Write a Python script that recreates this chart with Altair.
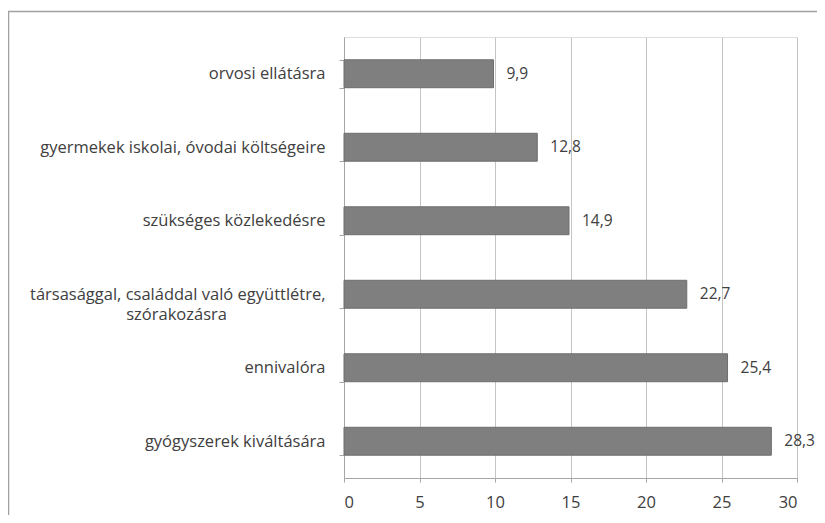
import altair as alt
import pandas as pd

categories = [
    "orvosi ellátásra",
    "gyermekek iskolai, óvodai költségeire",
    "szükséges közlekedésre",
    "társasággal, családdal való együttlétre,|szórakozásra",
    "ennivalóra",
    "gyógyszerek kiváltására",
]
values = [9.9, 12.8, 14.9, 22.7, 25.4, 28.3]
value_labels = ["9,9", "12,8", "14,9", "22,7", "25,4", "28,3"]
x_ticks = [0, 5, 10, 15, 20, 25, 30]

df = pd.DataFrame({"cat": categories, "val": values, "lab": value_labels})

FONT = "Open Sans"
TXT = "#404040"
FS = 16.5

# second line of the wrapped label is visually centred under the first line
pad = "\u00a0" * 23 + "\u2060"
label_expr = (
    "indexof(datum.label, '|') >= 0 ? "
    "[split(datum.label, '|')[0], split(datum.label, '|')[1] + '" + pad + "'] : datum.label"
)

y_enc = alt.Y(
    "cat:N",
    sort=categories,
    scale=alt.Scale(paddingInner=0.62, paddingOuter=0.31),
    axis=alt.Axis(
        title=None,
        labelExpr=label_expr,
        labelFont=FONT,
        labelFontSize=FS,
        labelColor=TXT,
        labelPadding=14,
        labelLimit=400,
        tickSize=5,
        tickColor="#a6a6a6",
        domainColor="#a6a6a6",
        tickBand="extent",
        grid=False,
        labelLineHeight=20,
    ),
)

x_enc = alt.X(
    "val:Q",
    scale=alt.Scale(domain=[0, 30], nice=False),
    axis=alt.Axis(
        title=None,
        values=x_ticks,
        labelFont=FONT,
        labelFontSize=FS,
        labelColor=TXT,
        labelPadding=12,
        tickSize=4,
        tickColor="#a6a6a6",
        domainColor="#a6a6a6",
        gridColor="#c4c4c4",
        grid=True,
    ),
)

bars = alt.Chart(df).mark_bar(color="#7f7f7f", stroke="#6e6e6e", strokeWidth=1).encode(
    x=x_enc, y=y_enc
)

texts = alt.Chart(df).mark_text(
    align="left", baseline="middle", dx=13, font=FONT, fontSize=15.5, color=TXT
).encode(x="val:Q", y=alt.Y("cat:N", sort=categories), text="lab:N")

border = alt.Chart(pd.DataFrame({"a": [0]})).mark_rect(
    fill=None, stroke="#a0a0a0", strokeWidth=1.5
).encode(
    x=alt.value(-335.5), x2=alt.value(700), y=alt.value(-25.5), y2=alt.value(700)
)

chart = (
    alt.layer(border, bars, texts)
    .properties(
        width=453,
        height=441,
        autosize=alt.AutoSizeParams(type="none"),
        padding={"left": 336, "top": 29, "right": 20, "bottom": 37},
    )
    .configure_view(stroke=None)
    .configure(background="white")
)

chart.save("out.html", embed_options={"renderer": "svg", "actions": False})
